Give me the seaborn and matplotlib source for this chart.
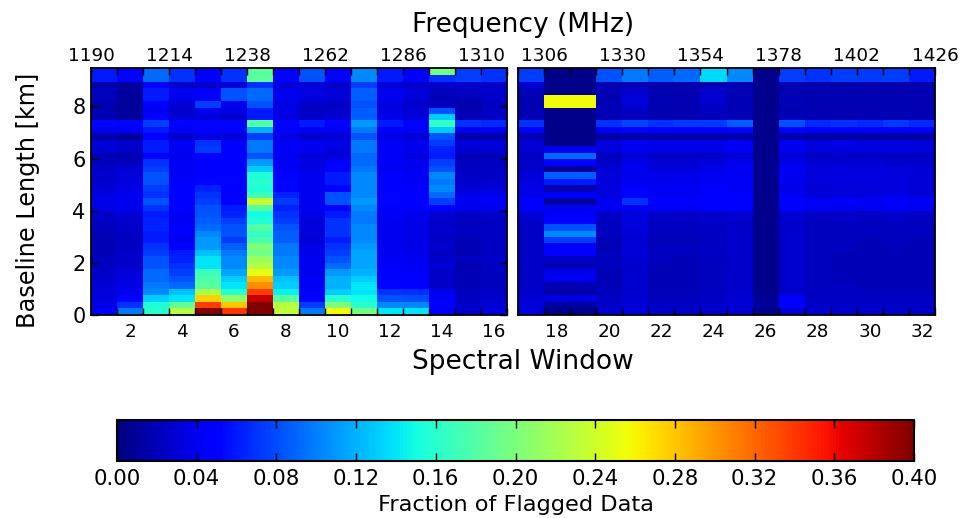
import matplotlib
matplotlib.use('Agg')
import matplotlib.pyplot as plt
import numpy as np
import pandas as pd
import seaborn as sns

sns.set_theme(style='ticks', font='DejaVu Sans')
plt.rcParams['xtick.direction'] = 'in'
plt.rcParams['ytick.direction'] = 'in'
plt.rcParams['axes.axisbelow'] = False
plt.rcParams['text.color'] = 'black'
plt.rcParams['axes.labelcolor'] = 'black'
plt.rcParams['xtick.labelcolor'] = 'black'
plt.rcParams['ytick.labelcolor'] = 'black'

# fraction of flagged data per spectral window, baseline rows from 0 km upward
spw01 = [.048,.036,.034,.032,.03,.028,.026,.024,.022,.02,  .02,.02,.02,.022,.024,.028,.035,.038,.035,.032,  .028,.028,.025,.022,.02,.03,.03,.016,.04,.052,  .018,.018,.018,.022,.022,.016,.06,.06,.06]
spw02 = [.098,.07,.044,.04,.036,.034,.032,.028,.026,.025,  .024,.024,.024,.026,.028,.03,.038,.04,.04,.036,  .034,.032,.03,.022,.018,.026,.028,.012,.042,.05,  .012,.01,.01,.01,.012,.012,.05,.05,.05]
spw03 = [.16,.155,.13,.104,.098,.092,.092,.082,.082,.075,  .07,.06,.06,.064,.064,.06,.07,.082,.07,.072,  .082,.082,.075,.07,.05,.06,.06,.045,.06,.075,  .045,.042,.045,.06,.06,.045,.092,.092,.092]
spw04 = [.227,.188,.14,.125,.092,.082,.075,.07,.064,.06,  .05,.04,.044,.044,.042,.042,.044,.045,.045,.044,  .044,.042,.042,.042,.04,.042,.042,.028,.042,.05,  .03,.028,.03,.04,.04,.028,.07,.07,.07]
spw05 = [.4,.338,.276,.222,.183,.178,.17,.14,.14,.125,  .11,.11,.104,.092,.087,.084,.082,.075,.07,.064,  .05,.045,.045,.045,.05,.072,.07,.035,.045,.05,  .032,.04,.075,.042,.045,.028,.045,.045,.045]
spw06 = [.342,.28,.21,.16,.14,.13,.115,.104,.104,.098,  .087,.072,.082,.082,.075,.064,.06,.05,.045,.045,  .05,.05,.045,.045,.045,.048,.048,.032,.045,.05,  .028,.035,.04,.082,.082,.03,.07,.07,.07]
spw07 = [.4,.4,.375,.338,.304,.285,.252,.227,.215,.195,  .2,.175,.165,.18,.155,.15,.183,.237,.17,.155,  .16,.155,.13,.11,.082,.098,.098,.075,.12,.18,  .06,.06,.082,.092,.092,.07,.183,.183,.183]
spw08 = [.232,.227,.183,.145,.13,.125,.11,.104,.104,.098,  .098,.087,.087,.084,.075,.07,.064,.072,.064,.05,  .052,.05,.042,.042,.04,.042,.042,.035,.045,.05,  .035,.035,.035,.04,.04,.03,.05,.05,.05]
spw09 = [.098,.075,.044,.044,.042,.042,.04,.04,.04,.038,  .036,.03,.032,.032,.032,.036,.04,.04,.04,.04,  .04,.04,.035,.035,.032,.038,.04,.028,.042,.06,  .028,.024,.025,.035,.035,.03,.082,.082,.082]
spw10 = [.257,.2,.16,.13,.12,.12,.11,.092,.082,.075,  .07,.06,.07,.07,.07,.06,.05,.082,.082,.05,  .06,.06,.05,.044,.03,.034,.036,.03,.042,.05,  .03,.026,.024,.03,.03,.026,.05,.05,.05]
spw11 = [.195,.16,.15,.14,.14,.13,.12,.115,.115,.115,  .11,.104,.104,.104,.098,.098,.104,.11,.104,.104,  .104,.104,.098,.092,.092,.098,.098,.082,.098,.11,  .087,.087,.082,.087,.087,.075,.104,.104,.104]
spw12 = [.14,.104,.082,.07,.05,.05,.046,.044,.042,.04,  .04,.04,.04,.04,.04,.042,.045,.05,.05,.046,  .045,.045,.042,.042,.042,.042,.042,.035,.045,.06,  .038,.035,.035,.04,.04,.032,.06,.06,.06]
spw13 = [.14,.104,.08,.068,.048,.048,.044,.042,.04,.038,  .036,.036,.036,.036,.036,.038,.044,.048,.048,.045,  .042,.042,.04,.04,.034,.038,.04,.03,.044,.05,  .032,.03,.028,.03,.034,.026,.048,.048,.048]
spw14 = [.046,.044,.042,.04,.026,.026,.026,.03,.028,.024,  .028,.026,.028,.028,.028,.03,.048,.075,.092,.104,  .098,.104,.082,.075,.06,.064,.072,.082,.13,.165,  .13,.082,.022,.02,.022,.028,.07,.195,.252]
spw15 = [.028,.026,.024,.022,.02,.02,.02,.018,.022,.02,  .02,.02,.022,.022,.022,.024,.04,.04,.036,.03,  .028,.026,.024,.022,.02,.03,.032,.016,.04,.07,  .02,.018,.016,.02,.024,.025,.075,.075,.075]
spw16 = [.032,.03,.028,.026,.022,.022,.022,.022,.026,.024,  .024,.024,.024,.024,.024,.028,.04,.042,.038,.032,  .028,.026,.024,.024,.02,.03,.032,.016,.042,.066,  .024,.024,.022,.026,.028,.025,.07,.07,.07]
spw17 = [.034,.032,.03,.028,.026,.026,.026,.026,.026,.026,  .026,.026,.026,.026,.026,.03,.045,.044,.038,.036,  .035,.032,.028,.025,.024,.03,.03,.018,.045,.07,  .02,.018,.018,.018,.02,.03,.075,.075,.075]
spw18 = [.004,.012,.035,.016,.018,.04,.04,.02,.024,.044,  .048,.075,.104,.082,.044,.044,.04,.014,.045,.018,  .06,.087,.01,.045,.092,.04,.004,.004,.004,.004,  .004,.004,.257,.257,.004,.004,.004,.004,.004]
spw19 = [.004,.012,.035,.016,.018,.04,.04,.02,.024,.044,  .048,.075,.104,.082,.044,.044,.04,.014,.045,.018,  .06,.087,.01,.045,.092,.04,.004,.004,.004,.004,  .004,.004,.257,.257,.004,.004,.004,.004,.004]
spw20 = [.028,.026,.024,.022,.02,.02,.02,.022,.022,.022,  .02,.02,.022,.024,.022,.024,.042,.04,.034,.034,  .034,.032,.03,.026,.022,.034,.032,.014,.042,.07,  .018,.02,.02,.018,.02,.018,.082,.082,.082]
spw21 = [.032,.03,.03,.028,.028,.028,.028,.028,.03,.03,  .03,.03,.03,.034,.034,.034,.042,.07,.044,.044,  .04,.04,.04,.036,.03,.04,.04,.016,.05,.078,  .022,.024,.03,.032,.028,.02,.098,.098,.098]
spw22 = [.026,.024,.022,.02,.02,.02,.02,.02,.022,.022,  .022,.02,.022,.024,.024,.028,.042,.044,.042,.042,  .04,.038,.034,.03,.024,.036,.036,.016,.046,.07,  .018,.016,.018,.018,.018,.016,.087,.087,.087]
spw23 = [.026,.024,.022,.02,.02,.02,.02,.02,.02,.022,  .022,.02,.022,.024,.024,.026,.042,.044,.042,.042,  .04,.038,.034,.03,.024,.036,.036,.016,.048,.072,  .018,.016,.018,.018,.018,.016,.092,.092,.092]
spw24 = [.028,.026,.024,.022,.022,.022,.022,.022,.022,.024,  .024,.022,.024,.024,.026,.028,.044,.046,.044,.044,  .042,.04,.036,.032,.026,.036,.036,.016,.048,.072,  .02,.024,.026,.03,.028,.018,.135,.135,.135]
spw25 = [.03,.03,.03,.028,.028,.028,.028,.028,.028,.028,  .028,.028,.028,.028,.028,.03,.046,.048,.045,.042,  .042,.042,.042,.038,.03,.042,.042,.016,.052,.087,  .02,.02,.02,.02,.02,.018,.104,.104,.104]
spw26 = [.004,.01,.008,.006,.006,.006,.006,.006,.006,.006,  .006,.006,.006,.006,.006,.006,.006,.006,.006,.006,  .006,.006,.006,.006,.006,.006,.006,.006,.006,.006,  .006,.006,.006,.006,.006,.006,.006,.006,.006]
spw27 = [.03,.046,.044,.028,.028,.028,.028,.028,.028,.028,  .028,.028,.028,.028,.028,.03,.046,.048,.042,.036,  .04,.04,.042,.036,.032,.04,.04,.016,.05,.082,  .02,.018,.02,.02,.018,.018,.075,.075,.075]
spw28 = [.028,.026,.024,.022,.022,.022,.022,.022,.022,.022,  .022,.022,.022,.022,.022,.026,.04,.042,.032,.03,  .032,.032,.032,.03,.024,.034,.034,.014,.046,.066,  .018,.018,.018,.018,.018,.016,.07,.07,.07]
spw29 = [.028,.026,.024,.022,.022,.02,.02,.02,.02,.02,  .022,.022,.022,.022,.024,.026,.04,.044,.034,.032,  .034,.034,.034,.03,.026,.034,.036,.014,.048,.07,  .018,.018,.018,.018,.018,.016,.075,.075,.075]
spw30 = [.028,.026,.024,.022,.02,.02,.02,.02,.02,.02,  .02,.02,.022,.022,.022,.026,.04,.042,.034,.032,  .034,.034,.032,.03,.026,.034,.034,.014,.046,.066,  .018,.018,.018,.018,.018,.016,.072,.072,.072]
spw31 = [.028,.026,.024,.022,.02,.02,.02,.02,.02,.02,  .022,.022,.022,.022,.024,.028,.042,.044,.036,.034,  .034,.032,.032,.028,.024,.034,.034,.014,.048,.072,  .018,.018,.018,.018,.018,.016,.075,.075,.075]
spw32 = [.026,.024,.024,.022,.02,.02,.02,.02,.02,.02,  .02,.02,.022,.022,.022,.026,.04,.042,.032,.03,  .03,.03,.03,.028,.024,.032,.032,.014,.044,.066,  .018,.018,.018,.018,.018,.016,.06,.06,.06]

left_windows = [spw01, spw02, spw03, spw04, spw05, spw06, spw07, spw08,
                spw09, spw10, spw11, spw12, spw13, spw14, spw15, spw16]
right_windows = [spw17, spw18, spw19, spw20, spw21, spw22, spw23, spw24,
                 spw25, spw26, spw27, spw28, spw29, spw30, spw31, spw32]

left_freq = ['1190', '1214', '1238', '1262', '1286', '1310']
right_freq = ['1306', '1330', '1354', '1378', '1402', '1426']
left_spw = ['2', '4', '6', '8', '10', '12', '14', '16']
right_spw = ['18', '20', '22', '24', '26', '28', '30', '32']
km_labels = ['0', '2', '4', '6', '8']
cbar_ticks = [0.00, 0.04, 0.08, 0.12, 0.16, 0.20, 0.24, 0.28, 0.32, 0.36, 0.40]

rows_per_km = 4.02


def draw_panel(ax, windows, freq, spw, freq_start):
    df = pd.DataFrame(np.array(windows).T)
    sns.heatmap(df, ax=ax, vmin=0, vmax=0.4, cmap='jet', cbar=False,
                xticklabels=False, yticklabels=False)
    ax.set_ylim(0, 38.15)
    ax.set_xlim(0, 16)
    ax.set_axisbelow(False)
    for sp in ax.spines.values():
        sp.set_visible(True)
        sp.set_linewidth(1.3)
        sp.set_color('black')
    top_labels = [''] * 17
    for i, lab in enumerate(freq):
        top_labels[freq_start + 3 * i] = lab
    ax.set_xticks(range(17))
    ax.set_xticklabels(top_labels)
    ax.set_xticks(np.arange(1.5, 16, 2), labels=spw, minor=True)
    ax.tick_params(axis='x', which='major', top=True, bottom=True, labeltop=True,
                   labelbottom=False, length=4.7, width=1, labelsize=13.2, pad=2, color='black')
    ax.tick_params(axis='x', which='minor', top=False, bottom=False, labeltop=False,
                   labelbottom=True, labelsize=13.2, pad=6)


fig = plt.figure(figsize=(9.65, 5.18), dpi=100)
ax1 = fig.add_axes([91 / 965, 1 - 314.7 / 518, 416 / 965, 247 / 518])
ax2 = fig.add_axes([518 / 965, 1 - 314.7 / 518, 417 / 965, 247 / 518])
draw_panel(ax1, left_windows, left_freq, left_spw, 0)
draw_panel(ax2, right_windows, right_freq, right_spw, 1)

ax1.set_yticks(np.arange(0, 5) * 2 * rows_per_km, labels=km_labels)
ax1.tick_params(axis='y', left=True, right=True, length=4.7, width=1, labelsize=15, pad=4, color='black')
ax2.set_yticks([])

ax1.set_ylabel('Baseline Length [km]', fontsize=17.3, labelpad=23, y=0.462)
fig.text(523 / 965, 1 - 25 / 518, 'Frequency (MHz)', fontsize=19, ha='center', va='center')
fig.text(523 / 965, 1 - 362 / 518, 'Spectral Window', fontsize=19, ha='center', va='center')

cax = fig.add_axes([117 / 965, 1 - 461 / 518, 797 / 965, 41 / 518])
sm = plt.cm.ScalarMappable(norm=plt.Normalize(0, 0.4), cmap='jet')
cb = fig.colorbar(sm, cax=cax, orientation='horizontal', ticks=cbar_ticks)
cb.ax.set_xticklabels(['%.2f' % t for t in cbar_ticks])
cb.ax.set_axisbelow(False)
cb.ax.tick_params(axis='x', top=True, bottom=True, direction='in', labelsize=15.3,
                  length=6, width=1, pad=5.5, color='black')
cb.outline.set_linewidth(1.5)
cb.outline.set_edgecolor('black')
cb.set_label('Fraction of Flagged Data', fontsize=16.2, labelpad=4.5)

plt.savefig('out.png', dpi=100)
